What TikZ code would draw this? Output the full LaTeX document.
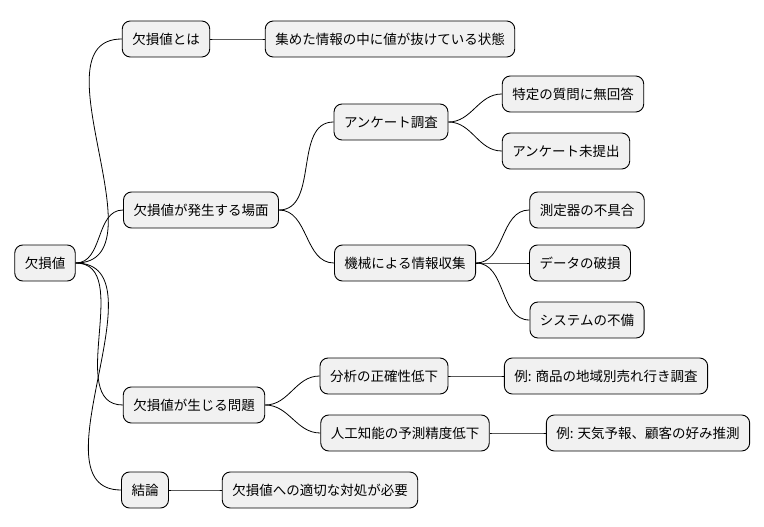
\documentclass[tikz,border=0pt]{standalone}
\usepackage{fontspec}
\setmainfont{Noto Sans CJK JP}
\begin{document}
\begin{tikzpicture}[x=1pt,y=-1pt,
  n/.style={draw=black,line width=0.9pt,fill={rgb,255:red,241;green,241;blue,241},rounded corners=8pt,minimum height=36pt,inner xsep=10pt,font=\fontsize{13.5}{16}\selectfont},
  c/.style={line width=0.8pt,out=0,in=180}]
\useasboundingbox (0,0) rectangle (764,527);
\node[n] (r) at (45,263) {欠損値};
\node[n] (a) at (166,39) {欠損値とは};
\node[n] (a1) at (390,39) {集めた情報の中に値が抜けている状態};
\node[n] (b) at (201,210) {欠損値が発生する場面};
\node[n] (b1) at (391,122) {アンケート調査};
\node[n] (b11) at (573,94) {特定の質問に無回答};
\node[n] (b12) at (566,151) {アンケート未提出};
\node[n] (b2) at (405,263) {機械による情報収集};
\node[n] (b21) at (587,210) {測定器の不具合};
\node[n] (b22) at (580,263) {データの破損};
\node[n] (b23) at (587,320) {システムの不備};
\node[n] (c) at (194,405) {欠損値が生じる問題};
\node[n] (c1) at (384,376) {分析の正確性低下};
\node[n] (c11) at (606,376) {例: 商品の地域別売れ行き調査};
\node[n] (c2) at (405,433) {人工知能の予測精度低下};
\node[n] (c21) at (648,433) {例: 天気予報、顧客の好み推測};
\node[n] (d) at (145,490) {結論};
\node[n] (d1) at (320,490) {欠損値への適切な対処が必要};
\foreach \p/\q in {r/a,r/b,r/c,r/d,a/a1,b/b1,b/b2,b1/b11,b1/b12,b2/b21,b2/b22,b2/b23,c/c1,c/c2,c1/c11,c2/c21,d/d1}
  \draw[c] (\p.east) to (\q.west);
\end{tikzpicture}
\end{document}
